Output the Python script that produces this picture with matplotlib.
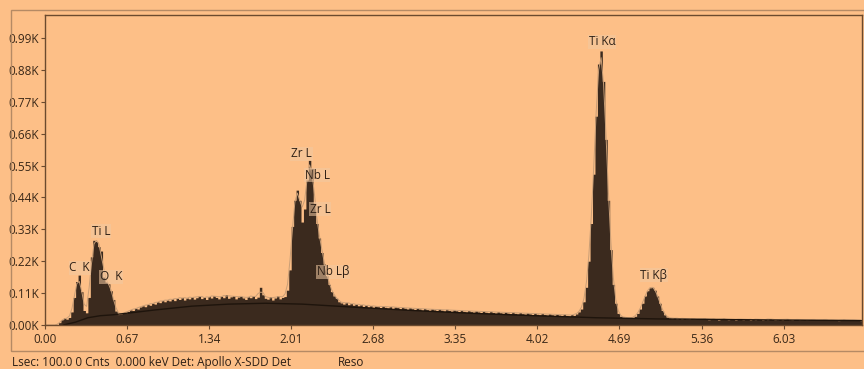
import numpy as np
import matplotlib
matplotlib.use("Agg")
import matplotlib.pyplot as plt
from matplotlib.patches import Rectangle

plt.rcParams['font.family'] = ['Open Sans', 'DejaVu Sans']

# counts per 0.02 keV channel, starting at 0.00 keV
counts = [
    0, 0, 0, 0, 0, 0, 8, 18, 24, 20,
    26, 45, 95, 150, 172, 115, 50, 42, 95, 235,
    292, 288, 270, 255, 165, 148, 142, 118, 88, 48,
    36, 38, 42, 40, 47, 52, 50, 58, 55, 62,
    66, 63, 71, 68, 75, 72, 80, 77, 84, 80,
    86, 83, 90, 84, 92, 88, 95, 86, 93, 90,
    97, 89, 94, 100, 91, 96, 88, 98, 93, 101,
    95, 90, 99, 94, 104, 92, 97, 101, 90, 96,
    99, 93, 88, 97, 94, 100, 91, 96, 130, 104,
    92, 89, 97, 86, 93, 100, 90, 95, 98, 120,
    190, 340, 430, 465, 430, 355, 400, 500, 568, 540,
    420, 350, 300, 250, 210, 170, 140, 115, 100, 92,
    80, 76, 72, 78, 70, 74, 68, 72, 66, 70,
    64, 69, 62, 67, 60, 65, 63, 58, 66, 61,
    59, 64, 57, 62, 60, 55, 61, 58, 54, 60,
    56, 52, 59, 55, 51, 57, 53, 50, 56, 52,
    49, 55, 51, 48, 54, 50, 47, 52, 49, 46,
    51, 47, 45, 50, 46, 44, 49, 45, 43, 48,
    44, 42, 47, 43, 41, 46, 42, 40, 45, 41,
    39, 44, 40, 38, 43, 39, 37, 42, 38, 36,
    41, 37, 35, 40, 36, 34, 39, 35, 33, 38,
    34, 32, 37, 33, 31, 36, 33, 38, 45, 55,
    80, 130, 220, 350, 520, 720, 900, 945, 840, 640,
    430, 260, 140, 75, 40, 30, 27, 24, 26, 23,
    25, 30, 40, 55, 75, 100, 118, 128, 130, 120,
    100, 75, 50, 35, 27, 24, 22, 25, 21, 23,
    20, 24, 21, 19, 23, 20, 22, 19, 21, 24,
    20, 18, 22, 19, 21, 17, 20, 23, 19, 18,
    21, 19, 17, 20, 22, 18, 19, 21, 17, 20,
    18, 21, 19, 17, 20, 18, 22, 19, 17, 18,
    20, 17, 19, 21, 18, 16, 19, 20, 17, 18,
    19, 16, 18, 20, 17, 19, 16, 18, 21, 17,
    18, 16, 19, 17, 15, 18, 20, 16, 17, 19,
    16, 18, 17, 15, 18,
]
energy = np.round(np.arange(len(counts)) * 0.02, 2)

# background (continuum) fit
bg_energy = [0.15, 0.25, 0.35, 0.45, 0.55, 0.7, 0.9, 1.2, 1.5, 1.8, 2.1, 2.5,
             3.0, 3.5, 4.0, 4.5, 5.0, 5.5, 6.0, 6.7]
bg_counts = [0, 10, 25, 32, 35, 42, 52, 65, 72, 75, 72, 62,
             50, 40, 32, 25, 21, 19, 17, 15]

# peak labels: text, energy (keV), counts
peak_labels = ["C  K", "Ti L", "O  K", "Zr L", "Nb L", "Zr L", "Nb L\u03b2", "Ti K\u03b1", "Ti K\u03b2"]
label_energy = [0.20, 0.38, 0.45, 2.01, 2.12, 2.16, 2.22, 4.44, 4.86]
label_counts = [197, 324, 166, 590, 517, 400, 183, 976, 172]

xticks = [0.00, 0.67, 1.34, 2.01, 2.68, 3.35, 4.02, 4.69, 5.36, 6.03]
yticks = [0, 110, 220, 330, 440, 550, 660, 770, 880, 990]

bg = '#fdbf87'
dark = '#3b2a1e'
edge = '#6b4a2e'

fig = plt.figure(figsize=(8.64, 3.69), dpi=100, facecolor=bg)
fig.patches.append(Rectangle((11 / 864, 1 - 351 / 369), 1.0, (351 - 10) / 369,
                             transform=fig.transFigure, fill=False,
                             edgecolor='#b58a64', lw=1.0))

ax = fig.add_axes([45 / 864, 1 - 325 / 369, (862 - 45) / 864, 310 / 369])
ax.set_facecolor(bg)

ax.fill_between(energy, counts, step='mid', color=dark, lw=0)
fit = np.convolve(counts, np.ones(3) / 3, mode='same')
ax.plot(energy, fit * 1.03, color='#c99e76', lw=0.7)
ax.plot(bg_energy, bg_counts, color='#1e140c', lw=1.0)

for txt, ex, cy in zip(peak_labels, label_energy, label_counts):
    ax.text(ex, cy, txt, ha='left', va='center', fontsize=8.5, color='#2e2016',
            bbox=dict(facecolor='#f2c9a2', alpha=0.55, edgecolor='none', pad=0.5))

ax.set_xlim(0, 6.67)
ax.set_ylim(0, 1069)
ax.set_xticks(xticks)
ax.set_xticklabels([f"{v:.2f}" for v in xticks])
ax.set_yticks(yticks)
ax.set_yticklabels([f"{v / 1000:.2f}K" for v in yticks])
ax.tick_params(direction='out', length=3, width=0.8, color=edge,
               labelsize=8.5, labelcolor='#3a2818', pad=1.5)
ax.tick_params(axis='x', pad=3)
for s in ax.spines.values():
    s.set_color(edge)
    s.set_linewidth(1.0)

fig.text(12 / 864, 1 - 356 / 369, "Lsec: 100.0 0 Cnts  0.000 keV Det: Apollo X-SDD Det",
         fontsize=8.5, color='#2e2016', va='top', ha='left')
fig.text(338 / 864, 1 - 356 / 369, "Reso", fontsize=8.5, color='#2e2016', va='top', ha='left')

fig.savefig("out.png", dpi=100, facecolor=bg)
